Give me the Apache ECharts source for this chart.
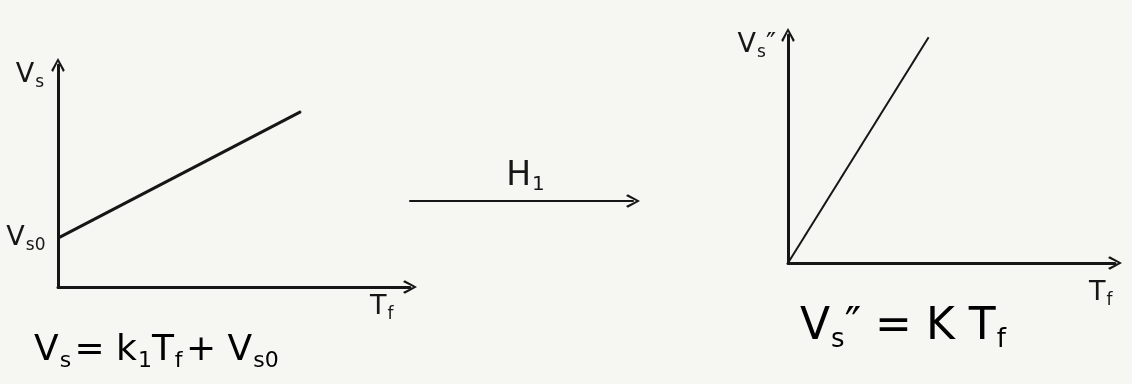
<!DOCTYPE html>
<html>
<head>
<meta charset="utf-8">
<script src="https://cdn.jsdelivr.net/npm/echarts@6/dist/echarts.min.js"></script>
<style>
  html, body { margin: 0; padding: 0; background: #f6f6f2; }
  #chart { width: 1132px; height: 384px; }
</style>
</head>
<body>
<div id="chart"></div>
<script>
// Sensor output before and after the H1 transformation (arbitrary units)
const tfRange = [0, 10];
const vsRange = [0, 10];
const vsBefore = [[0, 2.2], [6.9, 7.9]];   // Vs = k1·Tf + Vs0
const vsAfter = [[0, 0], [4.3, 9.9]];      // Vs'' = K·Tf

const ink = '#161616';
const font = '"DejaVu Sans", "Liberation Sans", sans-serif';
// open chevron head pointing along the axis
const openArrow = 'path://M5,0 L10,9 L8.7,10.3 L5,2.8 L1.3,10.3 L0,9 Z';

const subRich = {
  b: { fontSize: 27, color: ink, fontFamily: font },
  s: { fontSize: 17, color: ink, fontFamily: font, verticalAlign: 'bottom', padding: [15, 0, 0, 1] }
};

function axisPair(gridIndex, lw) {
  const axisLine = {
    show: true,
    lineStyle: { color: ink, width: lw, cap: 'round' },
    symbol: ['none', openArrow],
    symbolSize: [15, 14]
  };
  return {
    x: {
      type: 'value', gridIndex, min: tfRange[0], max: tfRange[1],
      axisLine, axisTick: { show: false }, axisLabel: { show: false }, splitLine: { show: false }
    },
    y: {
      type: 'value', gridIndex, min: vsRange[0], max: vsRange[1],
      axisLine, axisTick: { show: false }, axisLabel: { show: false }, splitLine: { show: false }
    }
  };
}

const a0 = axisPair(0, 3);
const a1 = axisPair(1, 3);
const a2 = axisPair(2, 2);
a2.y.show = false;

// axis names
a0.y.name = '{b|V}{s|s}';
a0.y.nameLocation = 'end';
a0.y.nameGap = -26;
a0.y.nameTextStyle = { rich: subRich, align: 'right', padding: [0, 14, 0, 0] };
a0.x.name = '{b|T}{s|f}';
a0.x.nameLocation = 'end';
a0.x.nameGap = -40;
a0.x.nameTextStyle = { rich: subRich, verticalAlign: 'top', padding: [4, 0, 0, 0] };

a1.y.name = '{b|V}{s|s}{b|\u2033}';
a1.y.nameLocation = 'end';
a1.y.nameGap = -26;
a1.y.nameTextStyle = { rich: subRich, align: 'right', padding: [0, 12, 0, 0] };
a1.x.name = '{b|T}{s|f}';
a1.x.nameLocation = 'end';
a1.x.nameGap = -26;
a1.x.nameTextStyle = { rich: subRich, verticalAlign: 'top', padding: [14, 0, 0, 0] };

a2.x.name = '{b|H}{s|1}';
a2.x.nameLocation = 'middle';
a2.x.nameGap = -44;
a2.x.nameTextStyle = {
  rich: {
    b: { fontSize: 33, color: ink, fontFamily: font },
    s: { fontSize: 20, color: ink, fontFamily: font, verticalAlign: 'bottom', padding: [18, 0, 0, 1] }
  },
  padding: [0, 0, 0, 8]
};

const eqRich = (big, small) => ({
  b: { fontSize: big, color: ink, fontFamily: font },
  s: { fontSize: small, color: ink, fontFamily: font, verticalAlign: 'bottom', padding: [Math.round(big * 0.55), 0, 0, 1] }
});

const option = {
  backgroundColor: '#f6f6f2',
  animation: false,
  grid: [
    { left: 58, right: 722, top: 65, bottom: 97 },
    { left: 788, right: 17, top: 35, bottom: 121 },
    { left: 410, right: 499, top: 100, bottom: 183 }
  ],
  xAxis: [a0.x, a1.x, a2.x],
  yAxis: [a0.y, a1.y, a2.y],
  series: [
    {
      type: 'line', xAxisIndex: 0, yAxisIndex: 0,
      symbol: 'circle', symbolSize: 1, showSymbol: true,
      itemStyle: { color: ink },
      lineStyle: { color: ink, width: 3 },
      data: [
        { value: vsBefore[0], label: { show: true, position: 'left', distance: 12, formatter: '{b|V}{s|s0}', rich: subRich } },
        vsBefore[1]
      ]
    },
    {
      type: 'line', xAxisIndex: 1, yAxisIndex: 1, showSymbol: false, symbol: 'none',
      lineStyle: { color: ink, width: 2 },
      data: vsAfter
    }
  ],
  graphic: [
    {
      type: 'text', left: 34, top: 333,
      style: {
        text: '{b|V}{s|s} {b|= k}{s|1}{b|T}{s|f} {b|+ V}{s|s0}',
        rich: eqRich(36, 22)
      }
    },
    {
      type: 'text', left: 800, top: 306,
      style: {
        text: '{b|V}{s|s}{b|\u2033 = K T}{s|f}',
        rich: eqRich(44, 26)
      }
    }
  ]
};

const chart = echarts.init(document.getElementById('chart'));
chart.setOption(option);
</script>
</body>
</html>
